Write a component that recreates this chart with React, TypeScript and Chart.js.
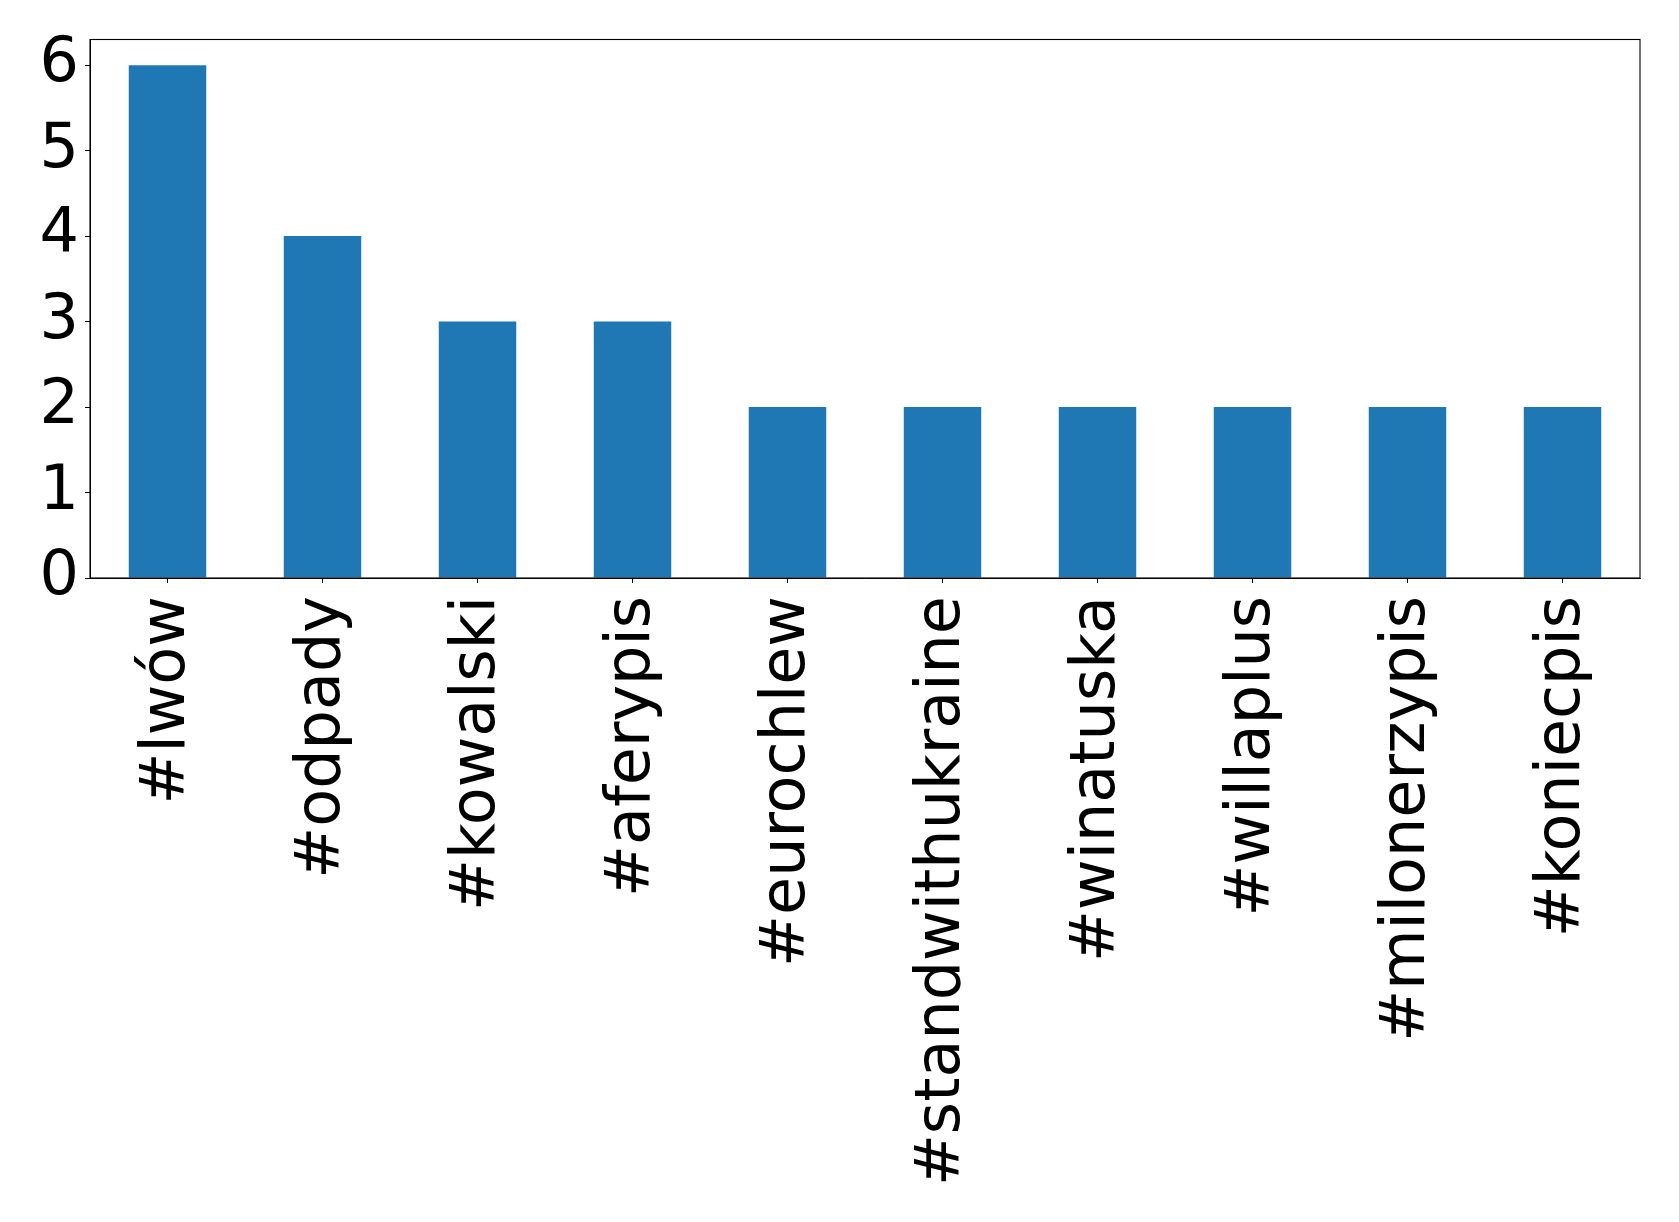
import React, { useEffect, useRef } from "react";
import { Chart, registerables } from "chart.js";

Chart.register(...registerables);

const categories = ["#lwów", "#odpady", "#kowalski", "#aferypis", "#eurochlew", "#standwithukraine", "#winatuska", "#willaplus", "#milonerzypis", "#koniecpis"];
const counts = [6, 4, 3, 3, 2, 2, 2, 2, 2, 2];
const yTicks = [0, 1, 2, 3, 4, 5, 6];

const FONT = "'DejaVu Sans', sans-serif";

const framePlugin = {
  id: "frame",
  afterDraw(chart: any) {
    const { ctx, chartArea } = chart;
    ctx.save();
    ctx.strokeStyle = "#000";
    ctx.lineWidth = 1.1;
    ctx.strokeRect(chartArea.left, chartArea.top, chartArea.right - chartArea.left, chartArea.bottom - chartArea.top);
    ctx.restore();
  },
};

export default function App() {
  const ref = useRef<HTMLCanvasElement | null>(null);
  useEffect(() => {
    if (!ref.current) return;
    const chart = new Chart(ref.current, {
      type: "bar",
      data: {
        labels: categories,
        datasets: [
          {
            data: counts,
            backgroundColor: "#1f77b4",
            barPercentage: 0.5,
            categoryPercentage: 1,
          },
        ],
      },
      options: {
        animation: false,
        responsive: false,
        maintainAspectRatio: false,
        layout: { padding: { top: 39.5, right: 39, left: 0, bottom: 0 } },
        plugins: { legend: { display: false }, tooltip: { enabled: false } },
        scales: {
          x: {
            grid: { drawOnChartArea: false, drawTicks: true, tickLength: 5, color: "#000", offset: false },
            border: { display: true, color: "#000" },
            ticks: {
              color: "#000",
              font: { family: FONT, size: 62 },
              minRotation: 90,
              maxRotation: 90,
              autoSkip: false,
              padding: 13,
            },
            afterFit: (scale: any) => {
              scale.height = 644;
              scale.paddingLeft = 0;
              scale.paddingRight = 0;
            },
          },
          y: {
            min: 0,
            max: 6.3,
            grid: { drawOnChartArea: false, drawTicks: true, tickLength: 5, color: "#000" },
            border: { display: true, color: "#000" },
            ticks: {
              color: "#000",
              font: { family: FONT, size: 62 },
              stepSize: 1,
              includeBounds: false,
              padding: 6,
            },
            afterBuildTicks: (scale: any) => {
              scale.ticks = yTicks.map((v) => ({ value: v }));
            },
            afterFit: (scale: any) => {
              scale.width = 90;
              scale.paddingTop = 0;
              scale.paddingBottom = 0;
            },
          },
        },
      },
      plugins: [framePlugin],
    });
    return () => chart.destroy();
  }, []);
  return (
    <div style={{ position: "fixed", left: 0, top: 0, width: 1679, height: 1222, background: "#fff" }}>
      <canvas ref={ref} width={1679} height={1222} style={{ width: 1679, height: 1222 }} />
    </div>
  );
}
